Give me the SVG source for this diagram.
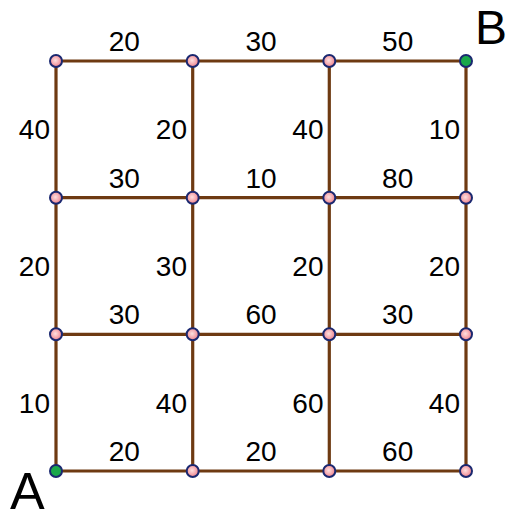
<svg xmlns="http://www.w3.org/2000/svg" width="512" height="520" viewBox="0 0 512 520">
<defs>
<radialGradient id="pink" cx="0.45" cy="0.45" r="0.6">
<stop offset="0" stop-color="#fde0e0"/>
<stop offset="0.55" stop-color="#f5a8ae"/>
<stop offset="1" stop-color="#ea7480"/>
</radialGradient>
</defs>
<style>
.e{stroke:#6e3a12;stroke-width:3.2;fill:none;stroke-linecap:butt}
.n{fill:url(#pink);stroke:#1a2870;stroke-width:2}
.g{fill:#1aa84a;stroke:#1a2870;stroke-width:2}
.t{font-family:"Liberation Sans",Arial,sans-serif;font-size:28px;fill:#000}
.c{text-anchor:middle}
.r{text-anchor:end}
.big{font-family:"Liberation Sans",Arial,sans-serif;fill:#000}
</style>
<g id="connectors">
<line class="e" x1="56" y1="61" x2="466" y2="61"/>
<line class="e" x1="56" y1="197.7" x2="466" y2="197.7"/>
<line class="e" x1="56" y1="334.3" x2="466" y2="334.3"/>
<line class="e" x1="56" y1="471" x2="466" y2="471"/>
<line class="e" x1="56" y1="61" x2="56" y2="471"/>
<line class="e" x1="192.7" y1="61" x2="192.7" y2="471"/>
<line class="e" x1="329.3" y1="61" x2="329.3" y2="471"/>
<line class="e" x1="466" y1="61" x2="466" y2="471"/>
</g>
<g id="edge-labels">
<text class="t c" x="124.3" y="51">20</text>
<text class="t c" x="261" y="51">30</text>
<text class="t c" x="397.7" y="51">50</text>
<text class="t c" x="124.3" y="187.7">30</text>
<text class="t c" x="261" y="187.7">10</text>
<text class="t c" x="397.7" y="187.7">80</text>
<text class="t c" x="124.3" y="324.3">30</text>
<text class="t c" x="261" y="324.3">60</text>
<text class="t c" x="397.7" y="324.3">30</text>
<text class="t c" x="124.3" y="461">20</text>
<text class="t c" x="261" y="461">20</text>
<text class="t c" x="397.7" y="461">60</text>
<text class="t r" x="50" y="139">40</text>
<text class="t r" x="187" y="139">20</text>
<text class="t r" x="323.5" y="139">40</text>
<text class="t r" x="460" y="139">10</text>
<text class="t r" x="50" y="276">20</text>
<text class="t r" x="187" y="276">30</text>
<text class="t r" x="323.5" y="276">20</text>
<text class="t r" x="460" y="276">20</text>
<text class="t r" x="50" y="413">10</text>
<text class="t r" x="187" y="413">40</text>
<text class="t r" x="323.5" y="413">60</text>
<text class="t r" x="460" y="413">40</text>
</g>
<g id="A"><circle class="g" cx="56" cy="471" r="6"/><text class="big" x="10" y="509" font-size="52">A</text></g>
<g id="B"><circle class="g" cx="466" cy="61" r="6"/><text class="big" x="475" y="44" font-size="48">B</text></g>
<g id="n1"><circle class="n" cx="56" cy="61" r="6"/></g>
<g id="n2"><circle class="n" cx="192.7" cy="61" r="6"/></g>
<g id="n3"><circle class="n" cx="329.3" cy="61" r="6"/></g>
<g id="n4"><circle class="n" cx="56" cy="197.7" r="6"/></g>
<g id="n5"><circle class="n" cx="192.7" cy="197.7" r="6"/></g>
<g id="n6"><circle class="n" cx="329.3" cy="197.7" r="6"/></g>
<g id="n7"><circle class="n" cx="466" cy="197.7" r="6"/></g>
<g id="n8"><circle class="n" cx="56" cy="334.3" r="6"/></g>
<g id="n9"><circle class="n" cx="192.7" cy="334.3" r="6"/></g>
<g id="n10"><circle class="n" cx="329.3" cy="334.3" r="6"/></g>
<g id="n11"><circle class="n" cx="466" cy="334.3" r="6"/></g>
<g id="n12"><circle class="n" cx="192.7" cy="471" r="6"/></g>
<g id="n13"><circle class="n" cx="329.3" cy="471" r="6"/></g>
<g id="n14"><circle class="n" cx="466" cy="471" r="6"/></g>
</svg>
